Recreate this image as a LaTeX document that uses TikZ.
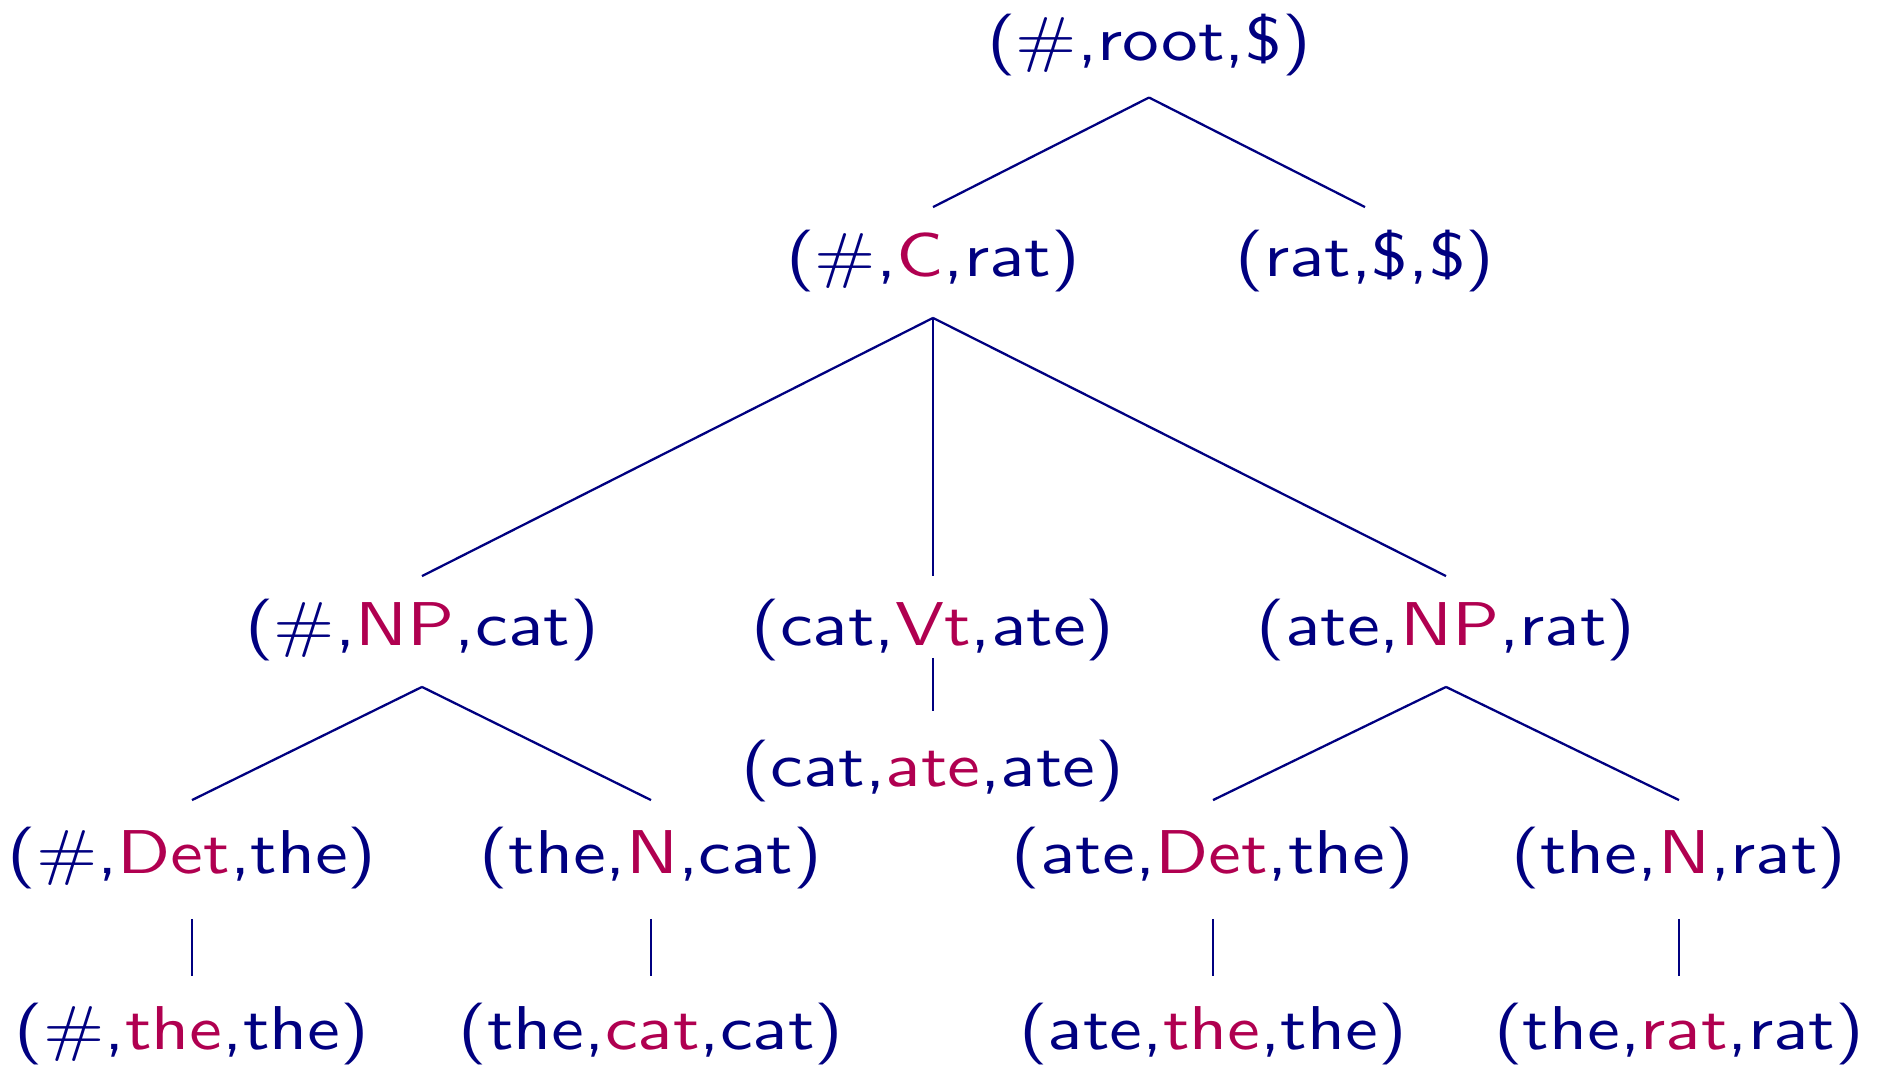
\documentclass[tikz,border=0pt]{standalone}
\definecolor{navyc}{RGB}{0,0,128}
\definecolor{crimc}{RGB}{176,0,80}
\newcommand\redw[1]{\textcolor{crimc}{#1}}
\begin{document}
\begin{tikzpicture}[
  lbl/.style={inner sep=0pt, outer sep=0pt, text=navyc, font=\sffamily\fontsize{10}{12}\selectfont, scale=1.76, xscale=1.19, transform shape},
  edge/.style={draw=navyc, line width=0.65pt}
]
\useasboundingbox (0,0) rectangle (18.83,-10.66);
\node[lbl] (root) at (11.49,-0.446) {(\#,root,\$)};
\node[lbl] (C) at (9.33,-2.61) {(\#,\redw{C},rat)};
\node[lbl] (R) at (13.65,-2.61) {(rat,\$,\$)};
\node[lbl] (NPa) at (4.22,-6.30) {(\#,\redw{NP},cat)};
\node[lbl] (Vt) at (9.33,-6.30) {(cat,\redw{Vt},ate)};
\node[lbl] (NPb) at (14.46,-6.30) {(ate,\redw{NP},rat)};
\node[lbl] (Vw) at (9.33,-7.71) {(cat,\redw{ate},ate)};
\node[lbl] (Deta) at (1.92,-8.58) {(\#,\redw{Det},the)};
\node[lbl] (Na) at (6.51,-8.58) {(the,\redw{N},cat)};
\node[lbl] (Detb) at (12.13,-8.58) {(ate,\redw{Det},the)};
\node[lbl] (Nb) at (16.79,-8.58) {(the,\redw{N},rat)};
\node[lbl] (wa) at (1.92,-10.34) {(\#,\redw{the},the)};
\node[lbl] (wb) at (6.51,-10.34) {(the,\redw{cat},cat)};
\node[lbl] (wc) at (12.13,-10.34) {(ate,\redw{the},the)};
\node[lbl] (wd) at (16.79,-10.34) {(the,\redw{rat},rat)};
\draw[edge] ([yshift=-0.22cm]root.south) -- ([yshift=0.23cm]C.north);
\draw[edge] ([yshift=-0.22cm]root.south) -- ([yshift=0.23cm]R.north);
\draw[edge] ([yshift=-0.26cm]C.south) -- ([yshift=0.23cm]NPa.north);
\draw[edge] ([yshift=-0.26cm]C.south) -- ([yshift=0.23cm]Vt.north);
\draw[edge] ([yshift=-0.26cm]C.south) -- ([yshift=0.23cm]NPb.north);
\draw[edge] ([yshift=0.03cm]Vt.south) -- ([yshift=0.29cm]Vw.north);
\draw[edge] ([yshift=-0.26cm]NPa.south) -- ([yshift=0.27cm]Deta.north);
\draw[edge] ([yshift=-0.26cm]NPa.south) -- ([yshift=0.27cm]Na.north);
\draw[edge] ([yshift=-0.26cm]NPb.south) -- ([yshift=0.27cm]Detb.north);
\draw[edge] ([yshift=-0.26cm]NPb.south) -- ([yshift=0.27cm]Nb.north);
\draw[edge] ([yshift=-0.30cm]Deta.south) -- ([yshift=0.27cm]wa.north);
\draw[edge] ([yshift=-0.30cm]Na.south) -- ([yshift=0.27cm]wb.north);
\draw[edge] ([yshift=-0.30cm]Detb.south) -- ([yshift=0.27cm]wc.north);
\draw[edge] ([yshift=-0.30cm]Nb.south) -- ([yshift=0.27cm]wd.north);
\end{tikzpicture}
\end{document}
